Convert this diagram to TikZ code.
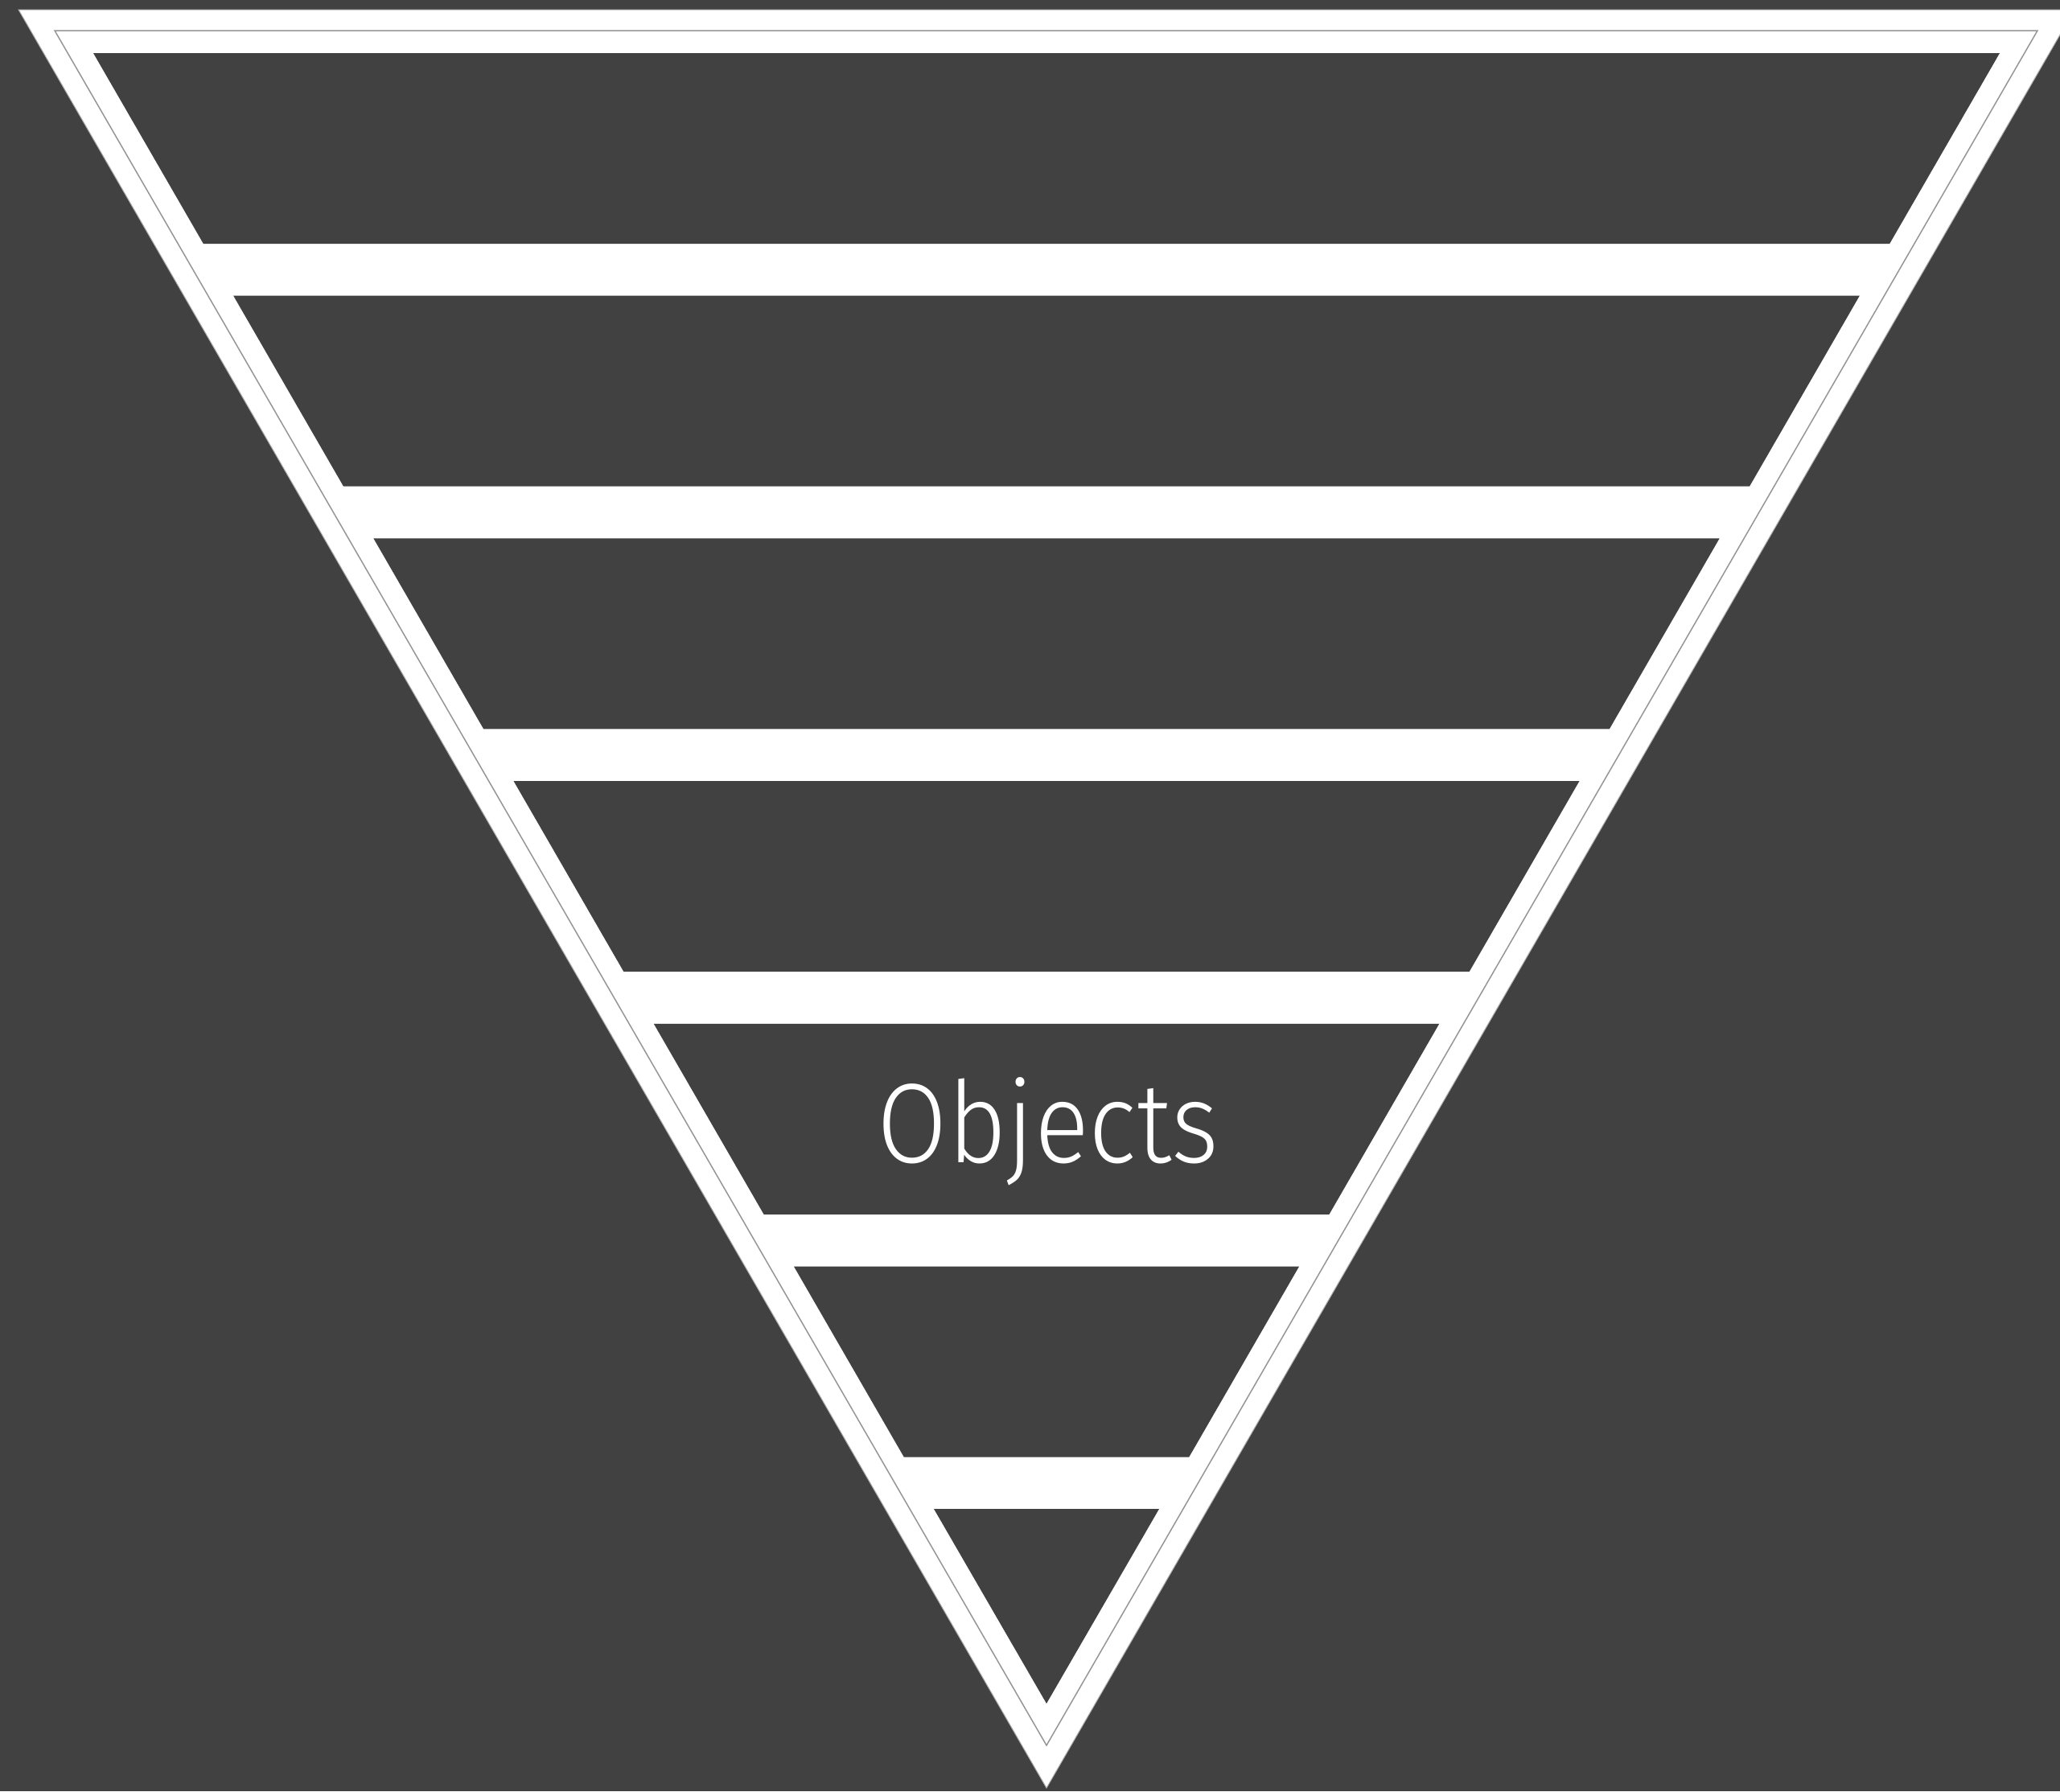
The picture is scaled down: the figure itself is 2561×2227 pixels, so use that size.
\documentclass[tikz,border=0pt]{standalone}
\usepackage{fontspec}
\usepackage{graphicx}
\newfontfamily\objfont{Fira Sans Light}
\definecolor{darkbg}{RGB}{65,65,65}
\definecolor{rimgray}{RGB}{150,150,150}
\tikzset{
  band/.style={fill=darkbg},
  rim/.style={draw=rimgray,line width=0.015cm},
  label/.style={text=white,font=\objfont\fontsize{40}{40}\selectfont,inner sep=0pt,anchor=base}
}
\begin{document}
\begin{tikzpicture}[x=0.01cm,y=-0.01cm]
\useasboundingbox (0,0) rectangle (2561,2227);
\clip (0,0) rectangle (2561,2227);
\fill[darkbg] (0,0) rectangle (2561,2227);
% outer white triangle
\fill[white,draw=rimgray!80,line width=0.01cm] (23,12) -- (2579,12) -- (1301,2223) -- cycle;
% thin gray inner outline
\draw[rim] (68,38) -- (2533,38) -- (1301,2170) -- cycle;
% bands
\foreach \i in {0,...,5} {
  \pgfmathsetmacro\yt{66+\i*301.7}
  \pgfmathsetmacro\yb{\yt+237}
  \pgfmathsetmacro\dt{(\yt-66)/1.7320508}
  \pgfmathsetmacro\db{(\yb-66)/1.7320508}
  \fill[band] (116+\dt,\yt) -- (2486-\dt,\yt) -- (2486-\db,\yb) -- (116+\db,\yb) -- cycle;
}
\pgfmathsetmacro\ytl{66+6*301.7}
\pgfmathsetmacro\dtl{(\ytl-66)/1.7320508}
\fill[band] (116+\dtl,\ytl) -- (2486-\dtl,\ytl) -- (1301,2118) -- cycle;
\node[label] (objects) at (1303,1445) {\scalebox{0.9}[1]{Objects}};
\end{tikzpicture}
\end{document}
